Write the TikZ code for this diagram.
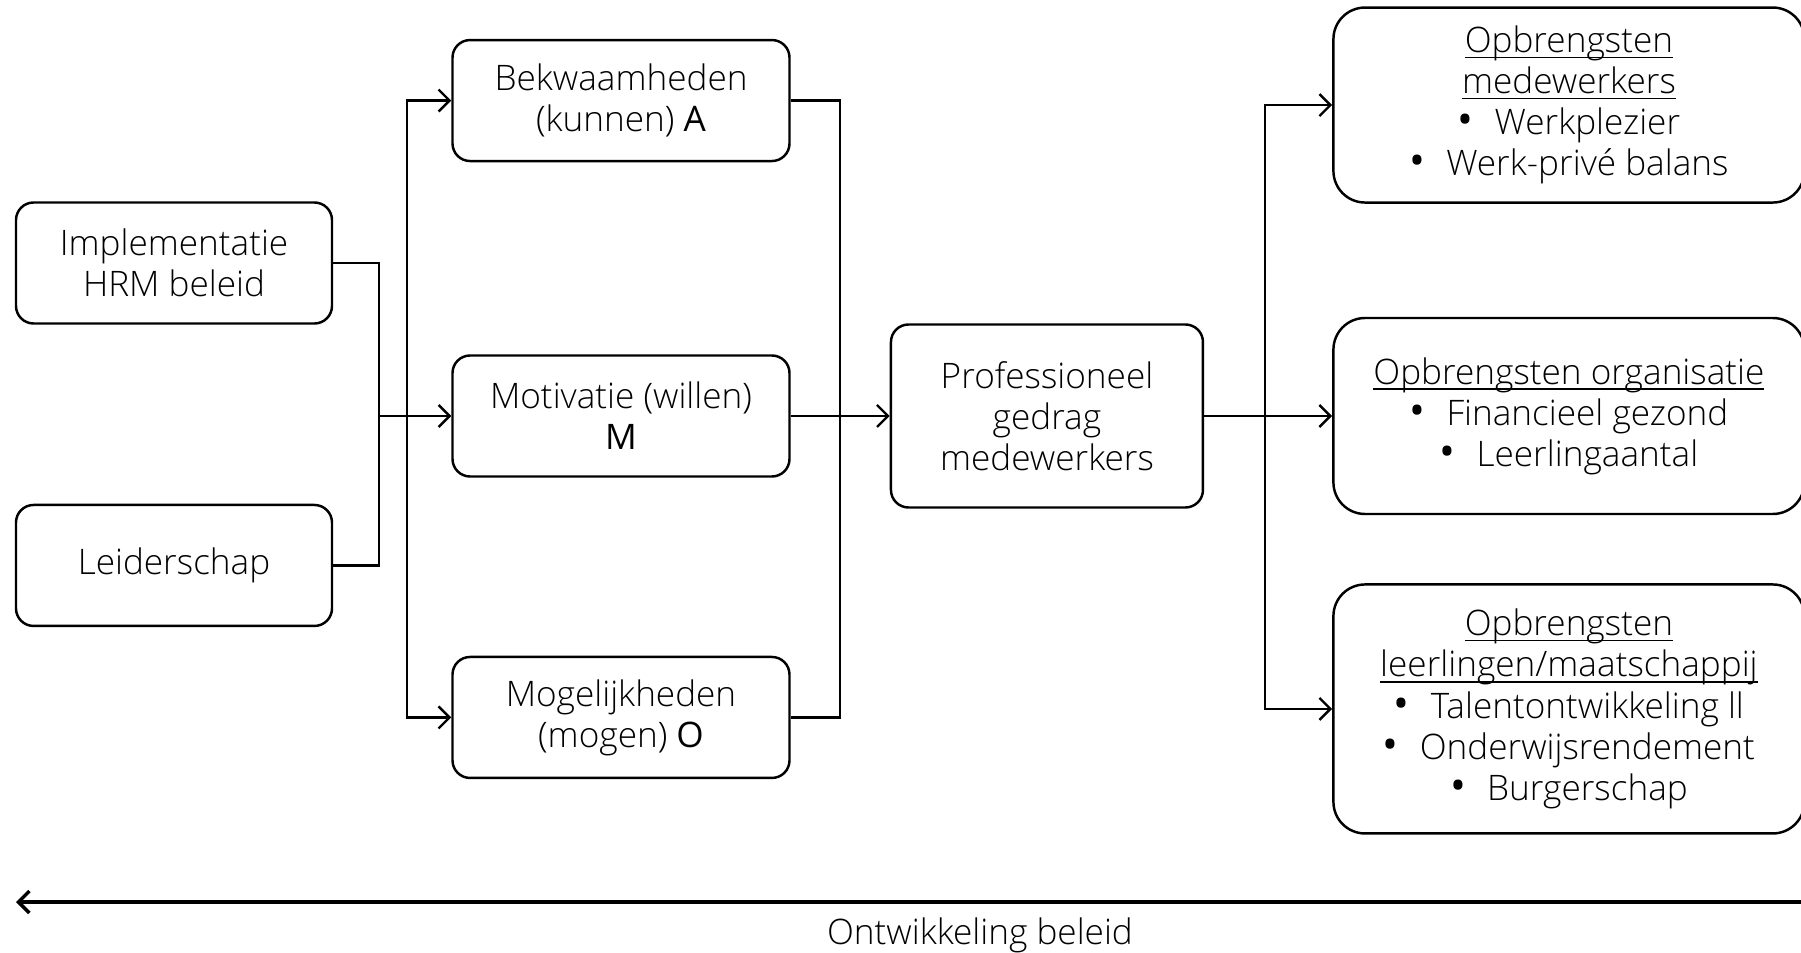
\documentclass[tikz,border=0pt]{standalone}
\usepackage{fontspec}
\setmainfont{Open Sans}[UprightFont={* Light},BoldFont={*}]
\usetikzlibrary{arrows.meta,positioning}
\newcommand{\bul}[1]{{\fontsize{12}{0}\selectfont\textbf{\textbullet}}\hspace{0.6em}#1}
\newcommand{\kop}[1]{\underline{\raisebox{0pt}[\height][0pt]{#1}}}

\begin{document}
\begin{tikzpicture}[
  block/.style={rectangle, draw=black, rounded corners=5pt, line width=0.7pt, minimum width=3.16cm, minimum height=1.21cm, inner sep=2pt, font=\fontsize{10}{11.7}\selectfont, align=center},
  outcome/.style={block, rounded corners=9pt, minimum width=4.71cm},
  link/.style={line width=0.7pt},
  arrow/.style={-{Straight Barb[length=1.1mm,width=2.2mm]}, line width=0.7pt}
]
\useasboundingbox (0,0) rectangle (18.01,-9.53);

\node[block] (imp) at (1.74,-2.63) {Implementatie\\HRM beleid};
\node[block, below=1.79cm of imp] (leid) {Leiderschap};

\node[block, minimum width=3.37cm] (motiv) at (6.21,-4.16) {Motivatie (willen)\\\textbf{M}};
\node[block, minimum width=3.37cm, above=1.92cm of motiv] (bekw) {Bekwaamheden\\(kunnen) \textbf{A}};
\node[block, minimum width=3.37cm, below=1.78cm of motiv] (mogel) {Mogelijkheden\\(mogen) \textbf{O}};

\node[block, minimum width=3.12cm, minimum height=1.83cm, right=0.99cm of motiv] (prof) {Professioneel\\gedrag\\medewerkers};

\node[outcome, minimum height=1.96cm, right=1.28cm of prof] (opborg) {\kop{Opbrengsten organisatie}\\\bul{Financieel gezond}\\\bul{Leerlingaantal}};
\node[outcome, minimum height=1.95cm, above=1.13cm of opborg] (opbmw) {\kop{Opbrengsten}\\\kop{medewerkers}\\\bul{Werkplezier}\\\bul{Werk-privé balans}};
\node[outcome, minimum height=2.49cm, below=0.68cm of opborg] (opbll) {\kop{Opbrengsten}\\\kop{leerlingen/maatschappij}\\\bul{Talentontwikkeling ll}\\\bul{Onderwijsrendement}\\\bul{Burgerschap}};

% junctions
\coordinate (jin) at (3.79,-4.16);
\coordinate (jabo) at (4.07,-4.16);
\coordinate (jout) at (8.40,-4.16);
\coordinate (jres) at (12.65,-4.16);

\draw[link] (imp.east) -| (jin) |- (leid.east);
\draw[arrow] (jin) -- (motiv.west);
\draw[arrow] (jabo) |- (bekw.west);
\draw[arrow] (jabo) |- (mogel.west);

\draw[link] (bekw.east) -| (jout) |- (mogel.east);
\draw[arrow] (motiv) -- (prof);

\draw[arrow] (prof) -- (opborg);
\draw[arrow] (jres) |- (opbmw.west);
\draw[arrow] (jres) |- (opbll.west);

% beleid terug
\coordinate (bright) at (18.10,-9.02);
\coordinate (bleft) at (0.16,-9.02);
\draw[arrow, line width=1pt] (bright) -- (bleft);
\node[font=\fontsize{10}{11.7}\selectfont] (ontw) at (9.80,-9.35) {Ontwikkeling beleid};
\end{tikzpicture}
\end{document}
